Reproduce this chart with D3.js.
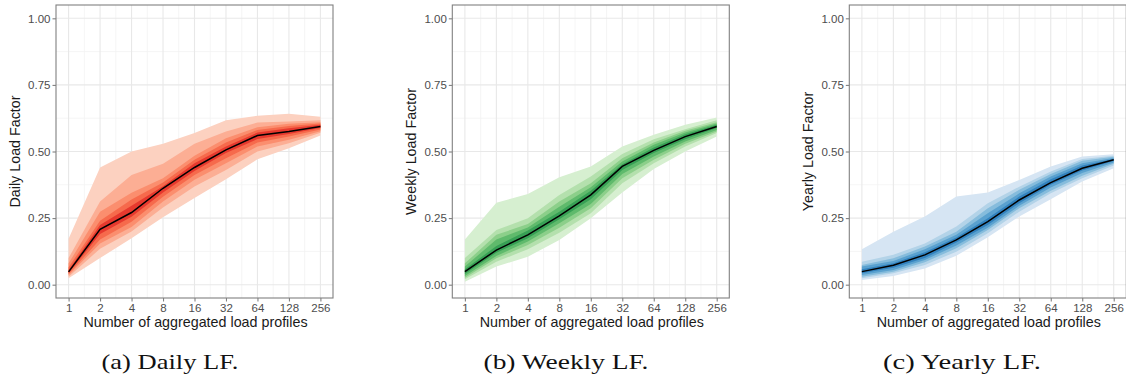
<!DOCTYPE html>
<html><head><meta charset="utf-8">
<script src="https://cdn.jsdelivr.net/npm/d3@7"></script>
<style>body{margin:0;background:#fff}svg{display:block}</style>
</head><body>
<svg id="chart" width="1126" height="380"></svg>
<script>
const aggregations = [1, 2, 4, 8, 16, 32, 64, 128, 256];
const yTicks = [0, 0.25, 0.5, 0.75, 1.0];
const xTitle = "Number of aggregated load profiles";

// Daily LF
const dailyMedian = [0.048, 0.208, 0.271, 0.362, 0.44, 0.506, 0.56, 0.575, 0.594];
const dailyUpper = [
  [0.172, 0.44, 0.50, 0.529, 0.569, 0.617, 0.634, 0.642, 0.63],
  [0.10, 0.312, 0.412, 0.454, 0.529, 0.575, 0.609, 0.613, 0.617],
  [0.08, 0.274, 0.345, 0.40, 0.484, 0.55, 0.591, 0.604, 0.61],
  [0.065, 0.24, 0.32, 0.384, 0.469, 0.534, 0.581, 0.596, 0.605],
  [0.055, 0.224, 0.296, 0.37, 0.456, 0.519, 0.571, 0.587, 0.60]
];
const dailyLower = [
  [0.024, 0.10, 0.174, 0.253, 0.325, 0.396, 0.471, 0.512, 0.56],
  [0.03, 0.135, 0.20, 0.29, 0.369, 0.431, 0.50, 0.531, 0.57],
  [0.035, 0.155, 0.217, 0.312, 0.394, 0.456, 0.519, 0.544, 0.576],
  [0.04, 0.17, 0.236, 0.33, 0.412, 0.475, 0.534, 0.556, 0.583],
  [0.044, 0.19, 0.255, 0.346, 0.427, 0.494, 0.547, 0.566, 0.588]
];

// Weekly LF
const weeklyMedian = [0.049, 0.13, 0.187, 0.258, 0.337, 0.444, 0.504, 0.556, 0.594];
const weeklyUpper = [
  [0.17, 0.308, 0.34, 0.403, 0.444, 0.519, 0.563, 0.60, 0.628],
  [0.10, 0.205, 0.249, 0.337, 0.406, 0.491, 0.546, 0.584, 0.617],
  [0.08, 0.187, 0.228, 0.312, 0.381, 0.475, 0.534, 0.578, 0.61],
  [0.068, 0.17, 0.215, 0.293, 0.366, 0.462, 0.525, 0.571, 0.605],
  [0.058, 0.145, 0.203, 0.274, 0.353, 0.452, 0.515, 0.565, 0.60]
];
const weeklyLower = [
  [0.011, 0.068, 0.105, 0.168, 0.249, 0.346, 0.434, 0.50, 0.556],
  [0.02, 0.086, 0.133, 0.195, 0.268, 0.381, 0.456, 0.519, 0.569],
  [0.026, 0.099, 0.149, 0.214, 0.287, 0.40, 0.469, 0.529, 0.575],
  [0.033, 0.108, 0.162, 0.231, 0.303, 0.416, 0.481, 0.538, 0.581],
  [0.04, 0.12, 0.174, 0.246, 0.321, 0.431, 0.494, 0.546, 0.588]
];

// Yearly LF
const yearlyMedian = [0.049, 0.073, 0.112, 0.168, 0.237, 0.318, 0.383, 0.437, 0.469];
const yearlyUpper = [
  [0.133, 0.199, 0.256, 0.331, 0.346, 0.393, 0.444, 0.481, 0.49],
  [0.086, 0.112, 0.155, 0.218, 0.306, 0.368, 0.425, 0.472, 0.484],
  [0.074, 0.099, 0.143, 0.199, 0.287, 0.356, 0.416, 0.465, 0.48],
  [0.068, 0.089, 0.133, 0.187, 0.268, 0.343, 0.406, 0.456, 0.476],
  [0.058, 0.08, 0.122, 0.177, 0.249, 0.331, 0.396, 0.447, 0.472]
];
const yearlyLower = [
  [0.018, 0.033, 0.061, 0.109, 0.178, 0.256, 0.321, 0.387, 0.437],
  [0.024, 0.043, 0.074, 0.124, 0.193, 0.274, 0.343, 0.40, 0.447],
  [0.03, 0.049, 0.084, 0.137, 0.205, 0.287, 0.353, 0.409, 0.454],
  [0.036, 0.055, 0.093, 0.147, 0.214, 0.296, 0.365, 0.419, 0.459],
  [0.043, 0.064, 0.10, 0.158, 0.224, 0.306, 0.375, 0.429, 0.464]
];

const redShades = ["#fcd1c0", "#fcae94", "#fb8e6e", "#f66a4c", "#e6392e"];
const greenShades = ["#d6efd0", "#b4e0ad", "#8ccf8a", "#5fba6c", "#37a055"];
const blueShades = ["#d6e5f3", "#b3d3e8", "#86bcdc", "#5aa1cf", "#3282be"];

const panels = [
  {yLabel: "Daily Load Factor", caption: "(a) Daily LF.", median: dailyMedian, upper: dailyUpper, lower: dailyLower, shades: redShades,
   left: 56, capX: 170, capW: 137},
  {yLabel: "Weekly Load Factor", caption: "(b) Weekly LF.", median: weeklyMedian, upper: weeklyUpper, lower: weeklyLower, shades: greenShades,
   left: 452.3, capX: 566, capW: 165},
  {yLabel: "Yearly Load Factor", caption: "(c) Yearly LF.", median: yearlyMedian, upper: yearlyUpper, lower: yearlyLower, shades: blueShades,
   left: 849.3, capX: 962, capW: 158}
];

const svg = d3.select("#chart");
const W = 277, plotTop = 5, plotBottom = 298;

panels.forEach(p => {
  const g = svg.append("g").attr("transform", `translate(${p.left},0)`);
  const x = d3.scaleLog().base(2).domain([Math.pow(2, -0.4), Math.pow(2, 8.4)]).range([0, W]);
  const y = d3.scaleLinear().domain([-0.05, 1.05]).range([plotBottom, plotTop]);

  // grid
  const minorY = [0.125, 0.375, 0.625, 0.875];
  const minorX = d3.range(0, 8).map(i => Math.pow(2, i + 0.5));
  g.selectAll(".gmy").data(minorY).join("line")
    .attr("x1", 0).attr("x2", W).attr("y1", d => y(d)).attr("y2", d => y(d))
    .attr("stroke", "#f3f3f3").attr("stroke-width", 0.8);
  g.selectAll(".gmx").data(minorX).join("line")
    .attr("y1", plotTop).attr("y2", plotBottom).attr("x1", d => x(d)).attr("x2", d => x(d))
    .attr("stroke", "#f3f3f3").attr("stroke-width", 0.8);
  g.selectAll(".gy").data(yTicks).join("line")
    .attr("x1", 0).attr("x2", W).attr("y1", d => y(d)).attr("y2", d => y(d))
    .attr("stroke", "#e8e8e8").attr("stroke-width", 1.1);
  g.selectAll(".gx").data(aggregations).join("line")
    .attr("y1", plotTop).attr("y2", plotBottom).attr("x1", d => x(d)).attr("x2", d => x(d))
    .attr("stroke", "#e8e8e8").attr("stroke-width", 1.1);

  // bands
  p.upper.forEach((up, i) => {
    const lo = p.lower[i];
    const area = d3.area()
      .x((d, j) => x(aggregations[j]))
      .y0((d, j) => y(lo[j]))
      .y1((d, j) => y(up[j]));
    g.append("path").datum(up).attr("d", area).attr("fill", p.shades[i]);
  });

  // median
  const line = d3.line().x((d, j) => x(aggregations[j])).y(d => y(d));
  g.append("path").datum(p.median).attr("d", line)
    .attr("fill", "none").attr("stroke", "#000").attr("stroke-width", 1.5);

  // border
  g.append("rect").attr("x", 0).attr("y", plotTop).attr("width", W).attr("height", plotBottom - plotTop)
    .attr("fill", "none").attr("stroke", "#808080").attr("stroke-width", 1.1);

  // axes
  const yAxis = d3.axisLeft(y).tickValues(yTicks).tickFormat(d3.format(".2f")).tickSize(3.5).tickPadding(2);
  const ya = g.append("g").call(yAxis);
  const xAxis = d3.axisBottom(x).tickValues(aggregations).tickFormat(d => String(d)).tickSize(3.5).tickPadding(2.5);
  const xa = g.append("g").attr("transform", `translate(0,${plotBottom})`).call(xAxis);
  [ya, xa].forEach(a => {
    a.select(".domain").remove();
    a.selectAll(".tick line").attr("stroke", "#808080").attr("stroke-width", 1.1);
    a.selectAll(".tick text").attr("fill", "#4d4d4d")
      .style("font-family", "'Liberation Sans', Arial, sans-serif").style("font-size", "11.5px");
  });

  // titles
  g.append("text").attr("x", W / 2 + 1).attr("y", 327)
    .attr("text-anchor", "middle").attr("fill", "#1a1a1a")
    .style("font-family", "'Liberation Sans', Arial, sans-serif").style("font-size", "14.3px")
    .text(xTitle);
  g.append("text").attr("transform", `translate(-36,${(plotTop + plotBottom) / 2}) rotate(-90)`)
    .attr("text-anchor", "middle").attr("fill", "#1a1a1a")
    .style("font-family", "'Liberation Sans', Arial, sans-serif").style("font-size", "14.3px")
    .text(p.yLabel);

  // caption
  svg.append("text").attr("x", p.capX).attr("y", 369).attr("text-anchor", "middle")
    .attr("textLength", p.capW).attr("lengthAdjust", "spacingAndGlyphs")
    .style("font-family", "'Liberation Serif', 'DejaVu Serif', serif").style("font-size", "21px")
    .attr("fill", "#111").text(p.caption);
});
</script>
</body></html>
